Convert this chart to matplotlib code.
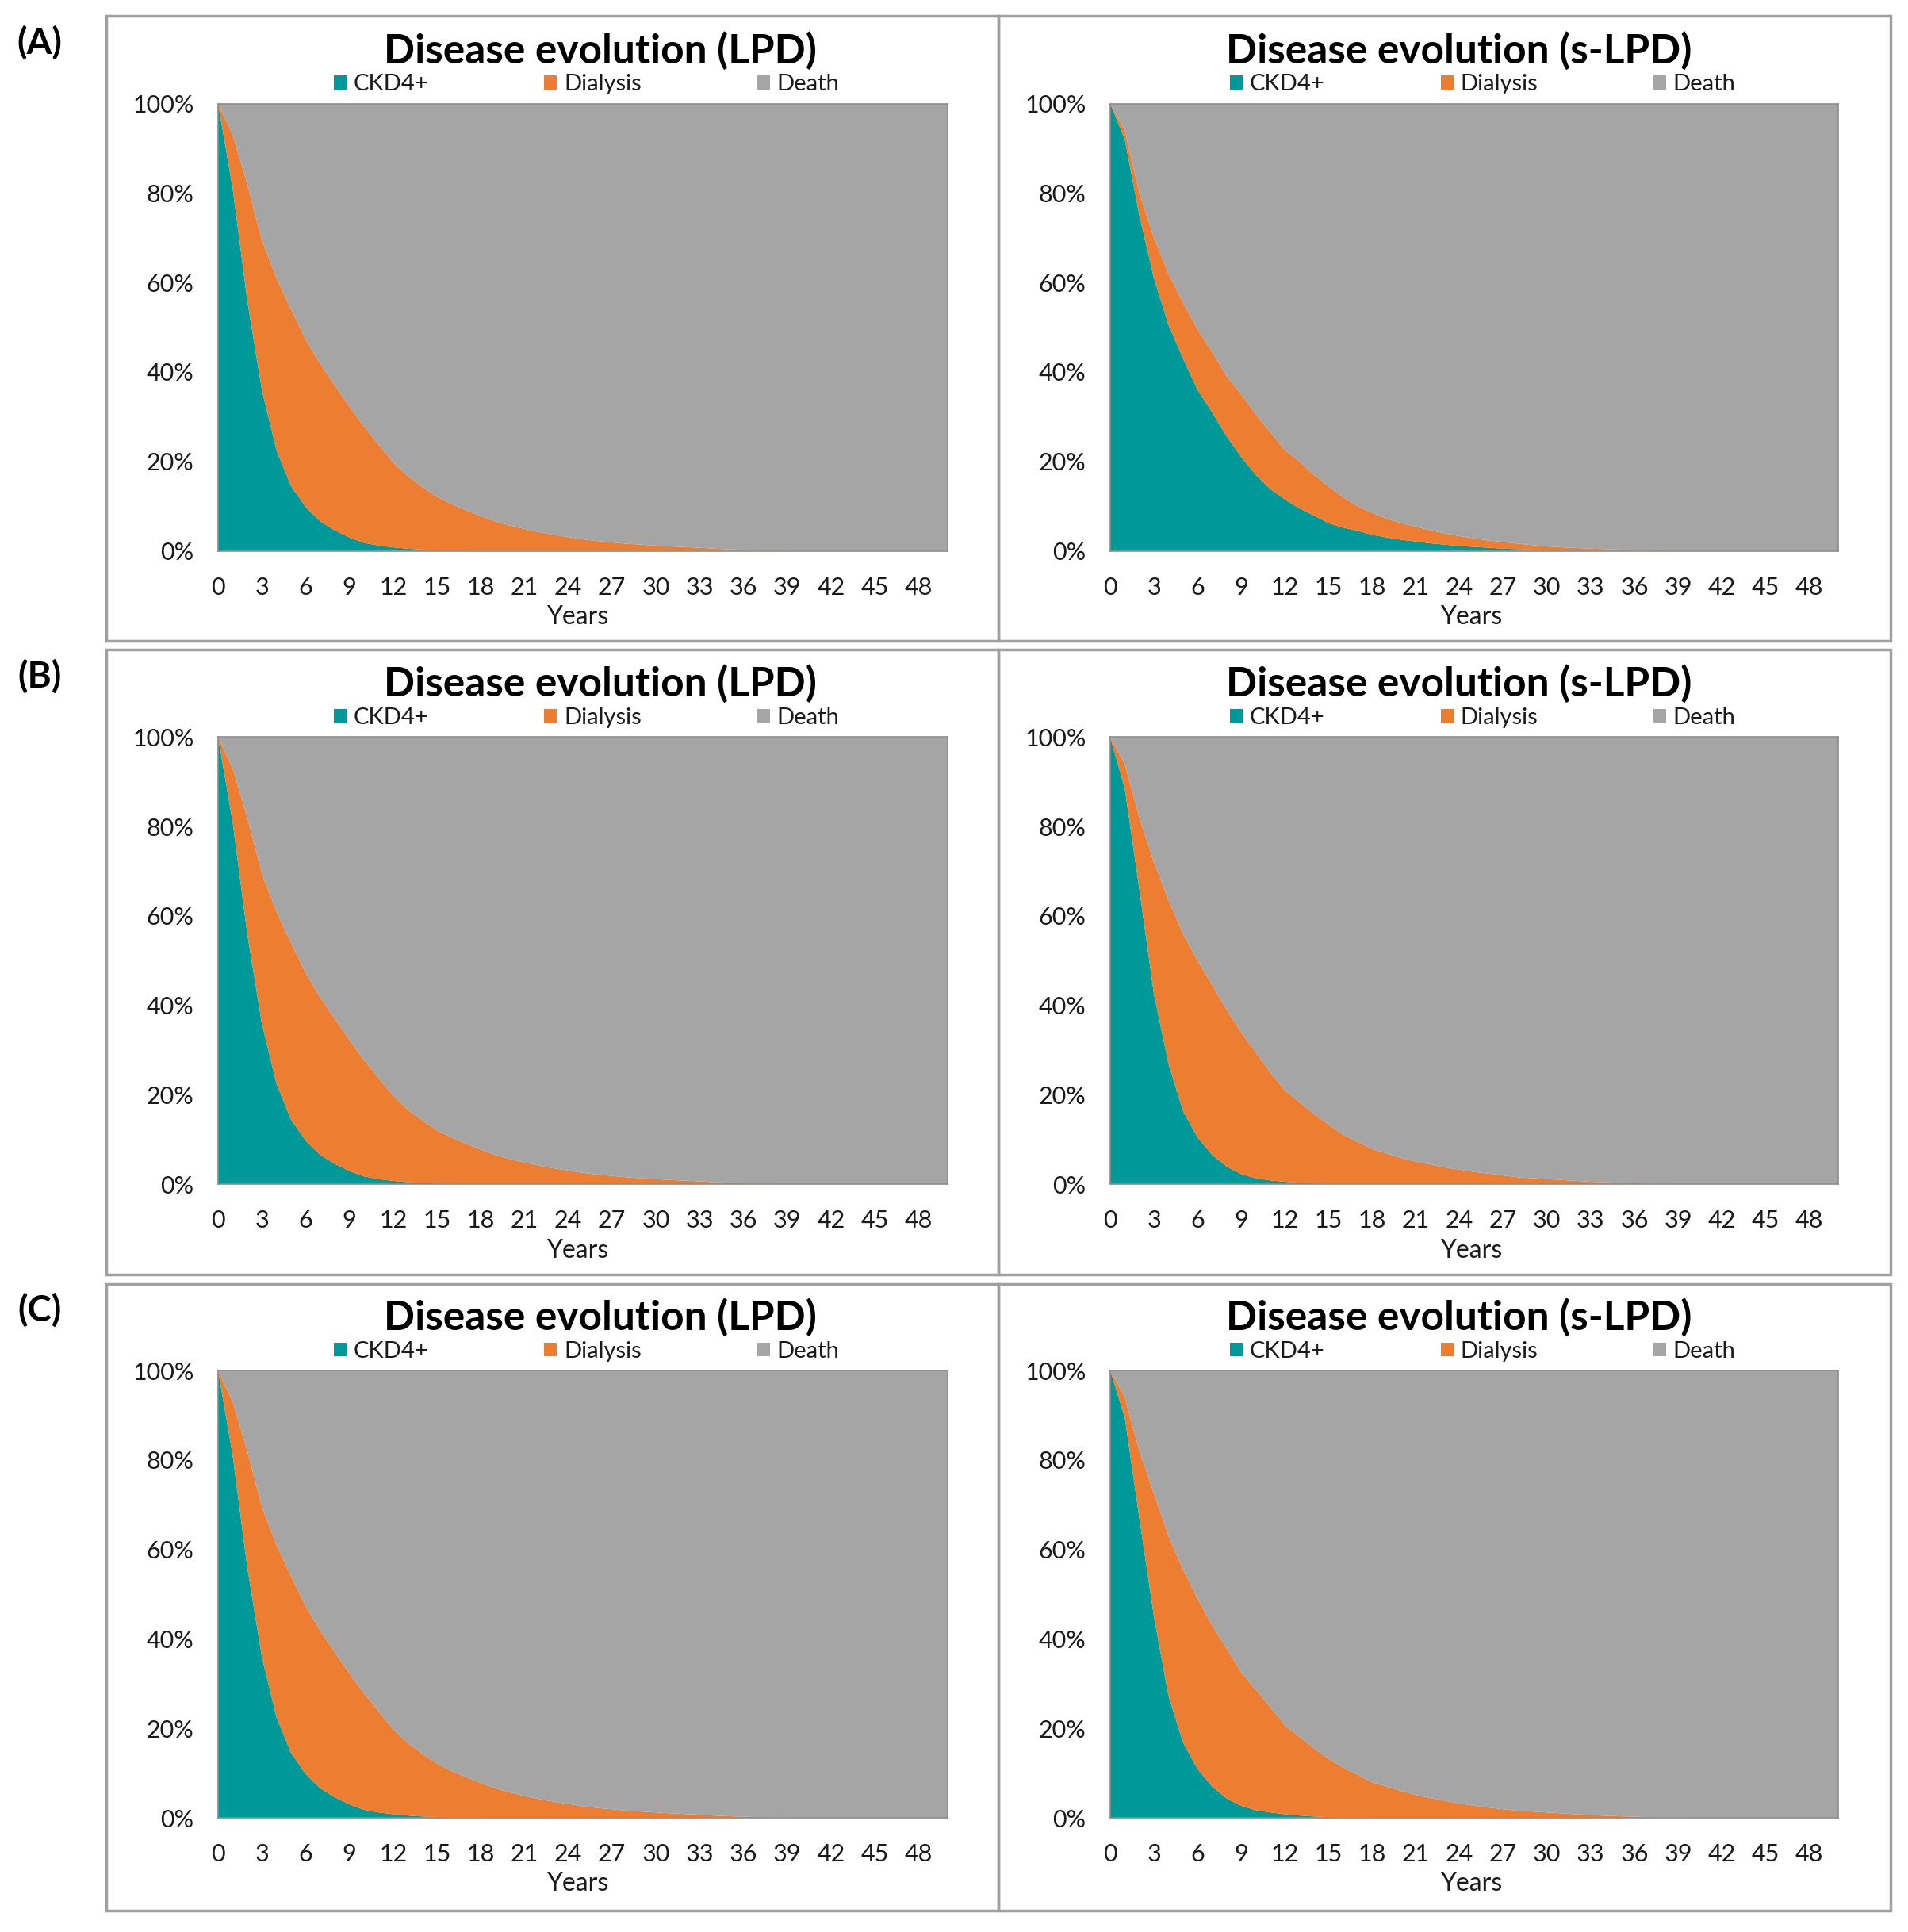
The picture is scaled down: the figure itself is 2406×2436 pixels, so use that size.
import matplotlib
matplotlib.use("Agg")
import matplotlib.pyplot as plt
from matplotlib.patches import Patch, Rectangle
import numpy as np

plt.rcParams['font.family'] = ['Lato', 'DejaVu Sans']

# ---------------- data (percent of cohort) ----------------
years = list(range(0, 51))
xtick_labels = [str(v) for v in range(0, 49, 3)]
ytick_values = [0, 20, 40, 60, 80, 100]
series_names = ["CKD4+", "Dialysis", "Death"]
row_labels = ["(A)", "(B)", "(C)"]
titles = ["Disease evolution (LPD)", "Disease evolution (s-LPD)"]

# LPD (same shape in all three scenarios)
lpd_ckd = [100, 81, 56, 36, 22.5, 14.5, 9.8, 6.6, 4.6, 3.0,
           1.8, 1.2, 0.8, 0.5, 0.3, 0.2, 0.1, 0.1, 0, 0,
           0, 0, 0, 0, 0, 0, 0, 0, 0, 0,
           0, 0, 0, 0, 0, 0, 0, 0, 0, 0,
           0, 0, 0, 0, 0, 0, 0, 0, 0, 0, 0]
lpd_dialysis = [0, 12, 26, 33.5, 38.5, 39.5, 37.5, 35.2, 32.4, 29.3,
                26.0, 22.6, 19.0, 16.2, 14.0, 11.9, 10.4, 9.0, 7.8, 6.6,
                5.7, 4.9, 4.2, 3.6, 3.1, 2.6, 2.2, 1.9, 1.6, 1.4,
                1.2, 1.0, 0.85, 0.7, 0.5, 0.35, 0.25, 0.15, 0.1, 0.05,
                0, 0, 0, 0, 0, 0, 0, 0, 0, 0, 0]

# s-LPD, scenario A
slpd_a_ckd = [100, 92, 75, 61, 50.5, 43, 36, 31, 25.6, 21,
              17, 13.8, 11.5, 9.5, 7.9, 6.2, 5.2, 4.5, 3.6, 3.0,
              2.5, 2.1, 1.7, 1.4, 1.1, 0.9, 0.7, 0.5, 0.4, 0.3,
              0.2, 0.15, 0.1, 0.05, 0, 0, 0, 0, 0, 0,
              0, 0, 0, 0, 0, 0, 0, 0, 0, 0, 0]
slpd_a_dialysis = [0, 2, 5, 9, 11.5, 12.5, 13.5, 13.5, 13.4, 14,
                   13.5, 12.7, 11, 10.5, 9.1, 8.2, 6.8, 5.5, 4.9, 4.2,
                   3.7, 3.3, 2.9, 2.5, 2.2, 1.9, 1.6, 1.5, 1.2, 1.0,
                   0.8, 0.65, 0.55, 0.45, 0.4, 0.3, 0.25, 0.15, 0.1, 0.05,
                   0, 0, 0, 0, 0, 0, 0, 0, 0, 0, 0]

# s-LPD, scenario B
slpd_b_ckd = [100, 88.5, 66, 42.6, 27, 16.4, 10.5, 6.6, 4.0, 2.3,
              1.4, 0.9, 0.6, 0.35, 0.2, 0.1, 0.05, 0, 0, 0,
              0, 0, 0, 0, 0, 0, 0, 0, 0, 0,
              0, 0, 0, 0, 0, 0, 0, 0, 0, 0,
              0, 0, 0, 0, 0, 0, 0, 0, 0, 0, 0]
slpd_b_dialysis = [0, 5.5, 16, 29.4, 36.6, 39.6, 39.5, 38, 35, 31.7,
                   28.1, 24.1, 20.4, 18.05, 15.5, 13.3, 11.05, 9.5, 7.9, 6.9,
                   5.9, 5.1, 4.5, 3.8, 3.3, 2.8, 2.4, 2.0, 1.6, 1.4,
                   1.2, 1.0, 0.8, 0.6, 0.5, 0.35, 0.25, 0.15, 0.1, 0.05,
                   0, 0, 0, 0, 0, 0, 0, 0, 0, 0, 0]

# s-LPD, scenario C
slpd_c_ckd = [100, 89.5, 67, 45, 27.3, 16.8, 10.9, 7.0, 4.3, 2.7,
              1.7, 1.2, 0.8, 0.5, 0.3, 0.15, 0.1, 0.05, 0, 0,
              0, 0, 0, 0, 0, 0, 0, 0, 0, 0,
              0, 0, 0, 0, 0, 0, 0, 0, 0, 0,
              0, 0, 0, 0, 0, 0, 0, 0, 0, 0, 0]
slpd_c_dialysis = [0, 4.5, 15, 27.5, 35.7, 38.7, 38.1, 36, 33.5, 29.8,
                   26.9, 23.5, 19.9, 17.6, 15.2, 13.05, 11.1, 9.55, 7.9, 7.0,
                   6.0, 5.1, 4.4, 3.8, 3.2, 2.7, 2.3, 1.9, 1.6, 1.4,
                   1.2, 1.0, 0.8, 0.6, 0.45, 0.35, 0.25, 0.15, 0.1, 0.05,
                   0, 0, 0, 0, 0, 0, 0, 0, 0, 0, 0]

panels = [
    [(lpd_ckd, lpd_dialysis), (slpd_a_ckd, slpd_a_dialysis)],
    [(lpd_ckd, lpd_dialysis), (slpd_b_ckd, slpd_b_dialysis)],
    [(lpd_ckd, lpd_dialysis), (slpd_c_ckd, slpd_c_dialysis)],
]

colors = ["#009999", "#ED7D31", "#A5A5A5"]

# ---------------- layout ----------------
W, H = 2406, 2436
fig = plt.figure(figsize=(W / 100, H / 100), dpi=100)
fig.patch.set_facecolor("white")

ax_left = [275 / W, 1400 / W]
ax_width = [920 / W, 918 / W]
ax_bottom = [1 - 694.6 / H, 1 - 1493.4 / H, 1 - 2292 / H]
ax_height = 564 / H

box_x = [133.6 / W, 1258.7 / W, 2383.8 / W]
box_y = [(20, 808), (819, 1607), (1619, 2409)]
label_y = [54, 853, 1652]

title_x = [0.524, 0.479]
legend_x = [0.505, 0.512]
years_x = [0.493, 0.496]

for r in range(3):
    y0, y1 = box_y[r]
    for c in range(2):
        rect = Rectangle((box_x[c], 1 - y1 / H), box_x[c + 1] - box_x[c], (y1 - y0) / H,
                         transform=fig.transFigure, fill=False,
                         edgecolor="#a0a0a0", linewidth=2.5, zorder=0)
        fig.patches.append(rect)

    fig.text(50 / W, 1 - label_y[r] / H, row_labels[r], fontsize=33,
             fontweight="bold", ha="center", va="center")

    for c in range(2):
        ckd, dial = panels[r][c]
        ckd = np.array(ckd, dtype=float)
        dial = np.array(dial, dtype=float)
        death = 100 - ckd - dial
        ax = fig.add_axes([ax_left[c], ax_bottom[r], ax_width[c], ax_height])
        ax.stackplot(years, ckd, dial, death, colors=colors, linewidth=0)
        ax.set_xlim(0, 50)
        ax.set_ylim(0, 100)
        ax.set_xticks(list(range(0, 49, 3)))
        ax.set_xticklabels(xtick_labels)
        ax.set_yticks(ytick_values)
        ax.set_yticklabels([f"{v}%" for v in ytick_values])
        ax.tick_params(axis="both", length=0, labelsize=22, colors="#1a1a1a")
        ax.tick_params(axis="x", pad=23)
        ax.tick_params(axis="y", pad=22)
        for s in ax.spines.values():
            s.set_color("#8c8c8c")
            s.set_linewidth(1.2)
        ax.text(years_x[c], -0.148, "Years", transform=ax.transAxes,
                ha="center", va="center", fontsize=23, color="#1a1a1a")
        ax.text(title_x[c], 1.118, titles[c], transform=ax.transAxes,
                ha="center", va="center", fontsize=37, fontweight="bold")
        handles = [Patch(facecolor=col, edgecolor="none") for col in colors]
        ax.legend(handles, series_names, ncol=3, loc="center",
                  bbox_to_anchor=(legend_x[c], 1.043), frameon=False,
                  fontsize=21, handlelength=0.55, handleheight=0.55,
                  handletextpad=0.3, columnspacing=5.0, borderpad=0,
                  labelcolor="#1a1a1a")

fig.savefig("out.png", dpi=100, facecolor="white")
